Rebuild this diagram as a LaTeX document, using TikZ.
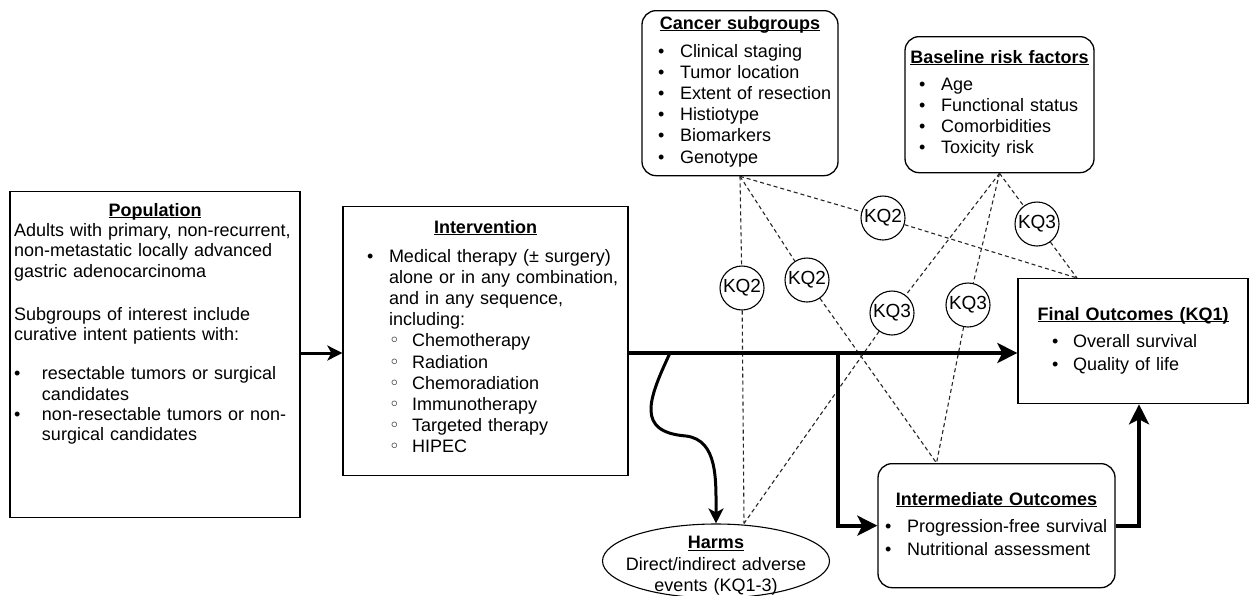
\documentclass[tikz,border=0pt]{standalone}
\usepackage{fontspec}
\setmainfont{Liberation Sans}
\newfontfamily\symfont{DejaVu Sans}
\usetikzlibrary{arrows.meta,positioning,shapes.geometric}
\newcommand{\hd}[1]{\underline{\smash{\textbf{#1}}}}
\newcommand{\bul}[2]{\hspace*{#1}\makebox[#2][l]{•}}
\newcommand{\sbul}[2]{\hspace*{#1}\makebox[#2][l]{{\symfont ◦}}}
\newcommand{\cl}[1]{\makebox[\linewidth]{#1}}
\tikzset{
  blk/.style={draw, line width=1.3pt, inner xsep=4pt, inner ysep=0pt, align=left, anchor=north},
  rblk/.style={blk, rounded corners=14pt},
  kq/.style={draw, circle, line width=1.1pt, minimum size=44pt, inner sep=0pt,
             font=\fontsize{19}{19}\selectfont},
  dsh/.style={black!85, line width=1.1pt, dash pattern=on 4pt off 3pt},
  flowarr/.style={-{Stealth[length=20pt, width=20pt, inset=5pt]}, line width=4pt},
  thinarr/.style={-{Stealth[length=15pt, width=15pt, inset=4pt]}, line width=3pt},
}

\begin{document}
\begin{tikzpicture}[x=1pt, y=-1pt, font=\fontsize{18}{21.2}\selectfont]
  \useasboundingbox (0,0) rectangle (1255,595);
  % boxes
  \node[blk, text width=282pt, text height=24.5pt, text depth=301.5pt,
        font=\fontsize{18}{20.4}\selectfont] (pop) at (155,191) {%
    \cl{\hd{Population}}\\
    Adults with primary, non-recurrent,\\
    non-metastatic locally advanced\\
    gastric adenocarcinoma\\[22.6pt]
    Subgroups of interest include\\
    curative intent patients with:\\[18.6pt]
    \bul{0pt}{28pt}resectable tumors or surgical\\
    \hspace*{28pt}candidates\\
    \bul{0pt}{28pt}non-resectable tumors or non-\\
    \hspace*{28pt}surgical candidates};
  \node[blk, text width=277pt, text height=26.5pt, text depth=242.5pt] (inter) at (485.5,206) {%
    \cl{\hd{Intervention}}\\[7.8pt]
    \bul{20pt}{22pt}Medical therapy (± surgery)\\
    \hspace*{42pt}alone or in any combination,\\
    \hspace*{42pt}and in any sequence,\\
    \hspace*{42pt}including:\\
    \sbul{42pt}{23pt}Chemotherapy\\
    \sbul{42pt}{23pt}Radiation\\
    \sbul{42pt}{23pt}Chemoradiation\\
    \sbul{42pt}{23pt}Immunotherapy\\
    \sbul{42pt}{23pt}Targeted therapy\\
    \sbul{42pt}{23pt}HIPEC};
  \node[rblk, text width=188pt, text height=18.5pt, text depth=146.5pt] (csub) at (740,10) {%
    \cl{\hd{Cancer subgroups}}\\[6.8pt]
    \bul{12pt}{22pt}Clinical staging\\
    \bul{12pt}{22pt}Tumor location\\
    \bul{12pt}{22pt}Extent of resection\\
    \bul{12pt}{22pt}Histiotype\\
    \bul{12pt}{22pt}Biomarkers\\
    \bul{12pt}{22pt}Genotype};
  \node[rblk, text width=181pt, text height=26.5pt, text depth=109.5pt] (base) at (999.5,36) {%
    \cl{\hd{Baseline risk factors}}\\[5.8pt]
    \bul{10pt}{22pt}Age\\
    \bul{10pt}{22pt}Functional status\\
    \bul{10pt}{22pt}Comorbidities\\
    \bul{10pt}{22pt}Toxicity risk};
  \node[blk, text width=222pt, text height=41.5pt, text depth=83.5pt] (final) at (1133,278) {%
    \cl{\hd{Final Outcomes (KQ1)}}\\[5.8pt]
    \bul{30pt}{21pt}Overall survival\\[1.8pt]
    \bul{30pt}{21pt}Quality of life};
  \node[rblk, text width=229pt, text height=41.5pt, text depth=82.5pt] (interm) at (996.5,463) {%
    \cl{\hd{Intermediate Outcomes}}\\[5.8pt]
    \bul{3pt}{22pt}Progression-free survival\\[1.8pt]
    \bul{3pt}{22pt}Nutritional assessment};
  \node[draw, ellipse, line width=1.1pt, minimum width=227pt, minimum height=74pt,
        inner sep=0pt, text width=150pt, align=center, text height=0pt, text depth=25pt,
        font=\fontsize{18}{21.5}\selectfont] (harms) at (716,561) {%
    \cl{\hd{Harms}}\\\cl{Direct/indirect adverse}\\\cl{events (KQ1-3)}};
  % key questions
  \node[kq] (q1) at (742,288) {KQ2};
  \node[kq] (q2) at (807,280) {KQ2};
  \node[kq] (q3) at (883,218) {KQ2};
  \node[kq] (q4) at (892,313) {KQ3};
  \node[kq] (q5) at (968,305) {KQ3};
  \node[kq] (q6) at (1037,224) {KQ3};
  \coordinate (hk) at ([xshift=28pt]harms.north);
  \coordinate (ik) at ([xshift=-60pt]interm.north);
  \coordinate (fk) at ([xshift=-56pt]final.north);
  \foreach \s/\q/\t in {csub/q1/hk, csub/q2/ik, csub/q3/fk, base/q6/fk, base/q4/hk, base/q5/ik}
    \draw[dsh] (\s.south) -- (\q) -- (\t);
  % arrows
  \coordinate (split) at (838,353);
  \coordinate (hstart) at (670,353);
  \draw[thinarr] (pop.east |- split) -- (inter.west |- split);
  \draw[flowarr] (inter.east |- split) -- (final.west |- split);
  \draw[flowarr] (split) |- (interm.west);
  \draw[flowarr] (interm.east) -| ([xshift=6pt]final.south);
  \draw[thinarr] (hstart) .. controls (648,400) and (636,432) .. (686,436)
    .. controls (718,440) and (716,480) .. (harms.north);
\end{tikzpicture}
\end{document}
